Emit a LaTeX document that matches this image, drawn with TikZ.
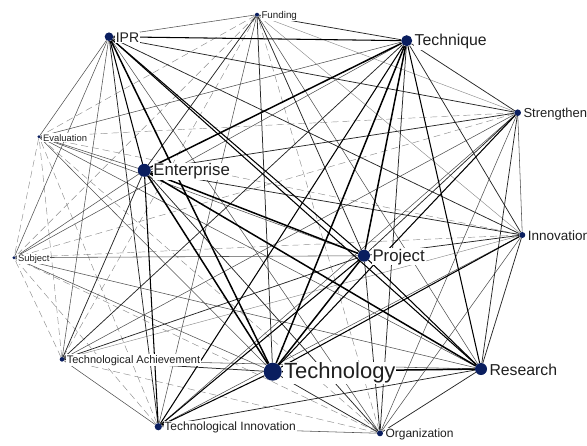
\documentclass[tikz,border=0pt]{standalone}
\usepackage{fontspec}
\setmainfont{Liberation Sans}
\pgfdeclarelayer{edges}
\pgfsetlayers{edges,main}
\definecolor{navy}{RGB}{10,30,95}
% name / weight of every term; an edge's look follows the product of its two weights
\newcommand\termweights{tgy/5,ent/4.5,prj/4,tq/4,res/3.5,ipr/3,tinn/2.5,str/2.2,inn/2,org/1.8,tach/1.6,fund/1.5,eva/1.2,sub/1.2}
\begin{document}
\begin{tikzpicture}[x=1pt,y=-1pt,
  dot/.style={circle, fill=navy, inner sep=0pt},
  lbl/.style={anchor=west, inner sep=0.8pt, fill=white, text=black!88},
  e1/.style={line width=0.45pt, draw=black!45, dash pattern=on 7pt off 4pt},
  e2/.style={line width=0.45pt, draw=black!45},
  e3/.style={line width=0.55pt, draw=black!68},
  e4/.style={line width=0.75pt, draw=black!85},
  e5/.style={line width=1.05pt, draw=black},
  e6/.style={line width=1.5pt, draw=black}]
\useasboundingbox (0,0) rectangle (587,445);
\clip (0,0) rectangle (587,445);

% term: name, x, y, dot radius, font size, text
\newcommand\term[6]{%
  \node[lbl, font=\fontsize{#5}{#5}\selectfont] (#1-t) at (#2+#4+1.5,#3+1) {#6};
  \node[dot, minimum size=#4*2pt] (#1) at (#2,#3) {};}

\term{tgy}{272.7}{371.7}{9}{22}{Technology}
\term{ent}{144.3}{170.3}{6.5}{16.8}{Enterprise}
\term{prj}{364}{255.7}{6}{16.8}{Project}
\term{tq}{406.7}{40.7}{5.5}{15.8}{Technique}
\term{res}{481}{369}{6}{15.8}{Research}
\term{ipr}{109}{36.7}{4.3}{14}{IPR}
\term{tinn}{158.3}{426.7}{3.6}{12}{Technological Innovation}
\term{str}{517.7}{112.7}{3.3}{13}{Strengthen}
\term{inn}{522.3}{235}{3}{13.5}{Innovation}
\term{org}{380}{433.3}{3}{12}{Organization}
\term{tach}{62}{359.3}{2.3}{11}{Technological Achievement}
\term{fund}{257}{14.7}{2}{9.8}{Funding}
\term{eva}{39}{136.7}{1.6}{9.4}{Evaluation}
\term{sub}{14}{257.7}{1.6}{9.4}{Subject}

% every pair of terms is linked; weak links first, strong links on top
\begin{pgfonlayer}{edges}
\foreach \lv in {1,...,6}{
  \foreach \a/\sa [count=\i] in \termweights {
    \foreach \b/\sb [count=\j] in \termweights {
      \ifnum\j>\i
        \pgfmathtruncatemacro\cl{\sa*\sb>=15 ? 6 : (\sa*\sb>=10 ? 5 : (\sa*\sb>=6 ? 4 : (\sa*\sb>=3.5 ? 3 : (\sa*\sb>=3 ? 2 : 1))))}
        \ifnum\cl=\lv \draw[e\cl] (\a) -- (\b);\fi
      \fi
    }}}
\end{pgfonlayer}
\end{tikzpicture}
\end{document}
